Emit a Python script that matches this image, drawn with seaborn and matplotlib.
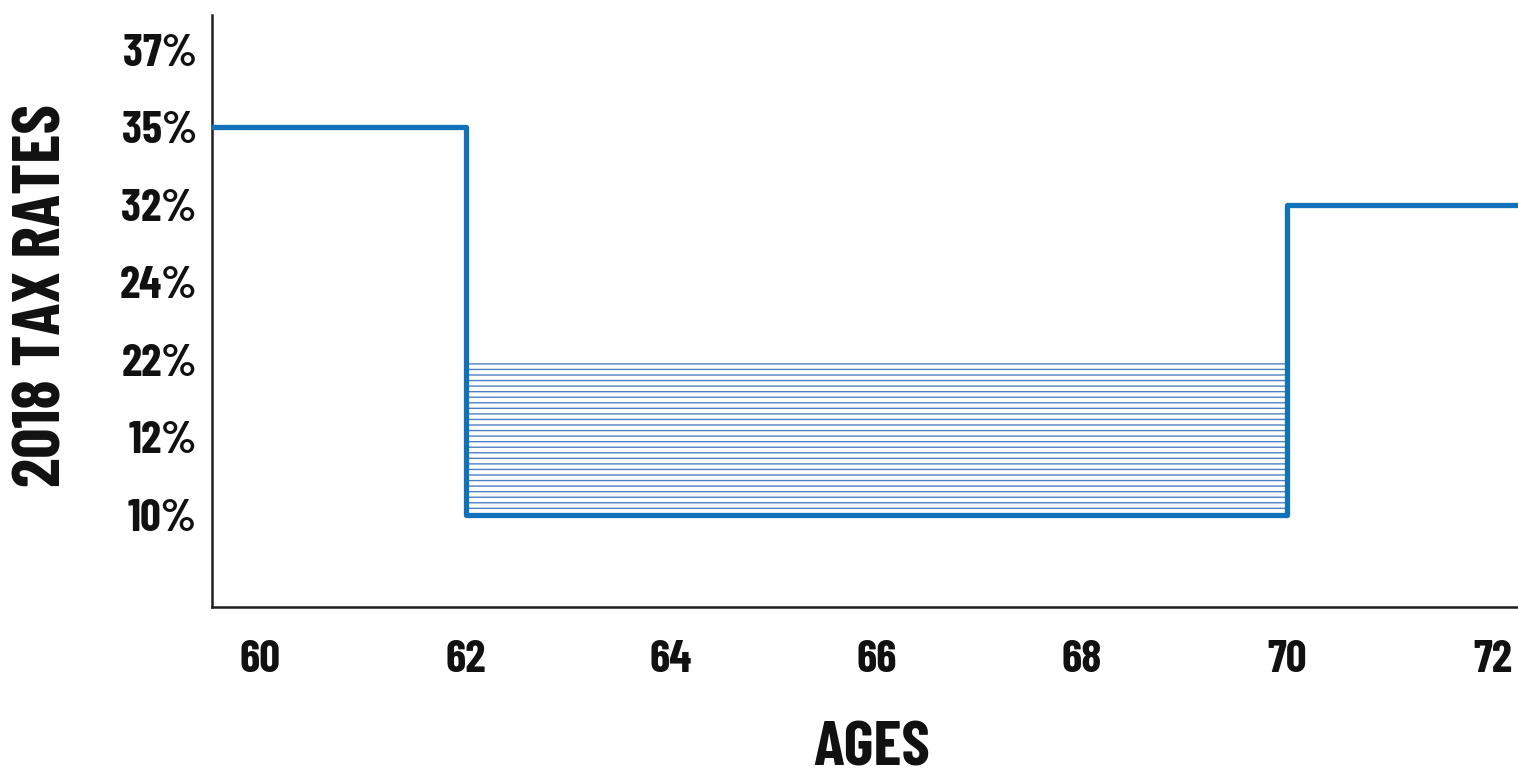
import matplotlib
matplotlib.use("Agg")
import matplotlib.pyplot as plt
import seaborn as sns
import pandas as pd

# Tax-bracket labels shown on the vertical axis (evenly spaced, bottom to top)
rate_labels = ["10%", "12%", "22%", "24%", "32%", "35%", "37%"]
age_ticks = [60, 62, 64, 66, 68, 70, 72]

# Marginal rate by age window: edges of each window and the rate inside it
age_edges = [59.5, 62, 70, 72.3]
window_rates = ["35%", "10%", "32%"]

# Shaded opportunity window (ages 62-70, filling up to the 22% bracket)
fill_ages = [62, 70]
fill_low, fill_high = "10%", "22%"

sns.set_theme(style="white")
plt.rcParams["font.family"] = ["Barlow Condensed", "DejaVu Sans"]
plt.rcParams["font.weight"] = "bold"
plt.rcParams["hatch.linewidth"] = 1.0

pos = {lab: i for i, lab in enumerate(rate_labels)}

steps = pd.DataFrame({
    "age": age_edges,
    "level": [pos[r] for r in window_rates] + [pos[window_rates[-1]]],
})

line_color = "#1172b9"
hatch_color = "#4f7fc4"
axis_color = "#231f20"
text_color = "#111111"

fig = plt.figure(figsize=(15.18, 7.77), dpi=100)
ax = fig.add_axes([212 / 1518, 170 / 777, 1306 / 1518, 592 / 777])

ax.fill_between(fill_ages, pos[fill_low], pos[fill_high], facecolor="none",
                edgecolor=hatch_color, hatch="---", linewidth=0, zorder=1)

sns.lineplot(data=steps, x="age", y="level", drawstyle="steps-post",
             color=line_color, linewidth=3.8, ax=ax, zorder=3)

ax.set_xlim(59.53, 72.25)
ax.set_ylim(-1.19, 6.45)

ax.set_yticks(range(len(rate_labels)))
ax.set_yticklabels(rate_labels)
ax.set_xticks(age_ticks)
ax.set_xticklabels([str(a) for a in age_ticks])

ax.tick_params(axis="y", length=0, pad=11, labelsize=33, labelcolor=text_color)
ax.tick_params(axis="x", length=0, pad=24, labelsize=33, labelcolor=text_color)
for lab in ax.get_xticklabels() + ax.get_yticklabels():
    lab.set_fontweight("bold")

for side in ("top", "right"):
    ax.spines[side].set_visible(False)
for side in ("left", "bottom"):
    ax.spines[side].set_color(axis_color)
    ax.spines[side].set_linewidth(1.8)

ax.set_ylabel("2018 TAX RATES", fontsize=48, fontweight="bold", color=text_color)
ax.yaxis.set_label_coords(-0.106, 0.527)
ax.set_xlabel("AGES", fontsize=46, fontweight="bold", color=text_color)
ax.xaxis.set_label_coords(0.505, -0.193)

fig.savefig("out.png", dpi=100)
